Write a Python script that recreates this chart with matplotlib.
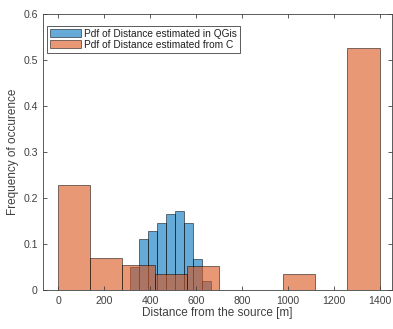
import matplotlib

matplotlib.use("Agg")
import matplotlib.pyplot as plt
import numpy as np

plt.rcParams["font.family"] = ["Liberation Sans", "DejaVu Sans"]

# histogram from QGis: narrow bins
qgis_edges = [315, 354, 393, 432, 471, 510, 549, 588, 627, 666]
qgis_pdf = [0.050, 0.110, 0.129, 0.145, 0.165, 0.171, 0.145, 0.067, 0.020]

# histogram from C: wide bins
c_edges = [0, 140, 280, 420, 560, 700, 840, 980, 1120, 1260, 1400]
c_pdf = [0.228, 0.070, 0.054, 0.035, 0.052, 0.0, 0.0, 0.035, 0.0, 0.526]

BLUE = (0.0, 0.447, 0.741)
ORANGE = (0.85, 0.325, 0.098)
GREY = "#404040"

fig = plt.figure(figsize=(3.93, 3.29), dpi=100)
ax = fig.add_axes([0.110, 0.1185, 0.888, 0.839])

qe = np.array(qgis_edges, dtype=float)
ax.bar(qe[:-1], qgis_pdf, width=np.diff(qe), align="edge", color=BLUE,
       alpha=0.6, edgecolor="black", linewidth=0.6,
       label="Pdf of Distance estimated in QGis")
ce = np.array(c_edges, dtype=float)
ax.bar(ce[:-1], c_pdf, width=np.diff(ce), align="edge", color=ORANGE,
       alpha=0.6, edgecolor="black", linewidth=0.6,
       label="Pdf of Distance estimated from C")

ax.set_xlim(-65, 1455)
ax.set_ylim(0, 0.6)
ax.set_xticks(np.arange(0, 1401, 200))
ax.set_yticks(np.arange(0, 0.61, 0.1))
ax.set_yticklabels(["0", "0.1", "0.2", "0.3", "0.4", "0.5", "0.6"])
ax.tick_params(direction="in", length=3, width=0.6, colors=GREY,
               labelsize=7.6, top=True, right=True, pad=4)
for s in ax.spines.values():
    s.set_color(GREY)
    s.set_linewidth(0.6)

ax.set_xlabel("Distance from the source [m]", fontsize=8.5, color=GREY, labelpad=1)
ax.set_ylabel("Frequency of occurence", fontsize=8.5, color=GREY, labelpad=3)

leg = ax.legend(loc="upper left", bbox_to_anchor=(0.006, 0.965), fontsize=7.3,
                handlelength=3.0, handleheight=0.85, handletextpad=0.3,
                borderpad=0.3, labelspacing=0.12, fancybox=False,
                framealpha=1, edgecolor=GREY, borderaxespad=0.2)
leg.get_frame().set_linewidth(0.6)
for t in leg.get_texts():
    t.set_color("#202020")

fig.savefig("out.png", dpi=100)
